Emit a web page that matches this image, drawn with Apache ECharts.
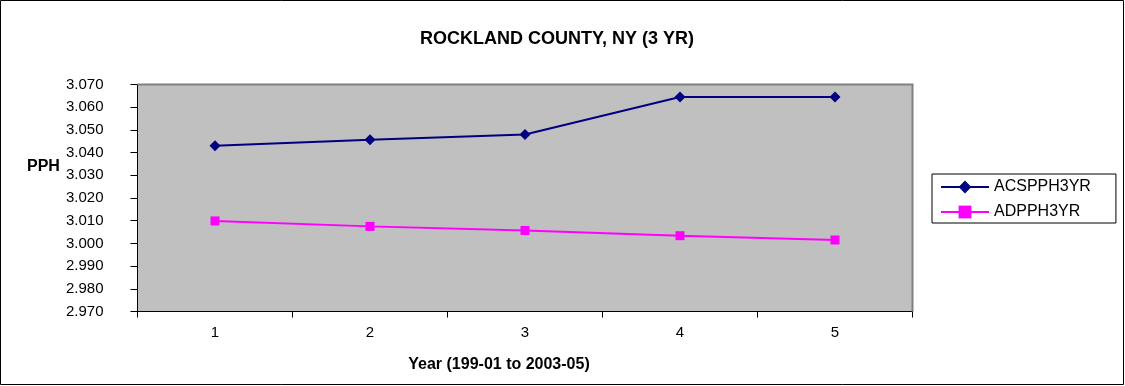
<!DOCTYPE html>
<html>
<head>
<meta charset="utf-8">
<script src="https://cdn.jsdelivr.net/npm/echarts@6/dist/echarts.min.js"></script>
<style>
  html, body { margin: 0; padding: 0; background: #fff; }
  #chart { width: 1125px; height: 386px; }
</style>
</head>
<body>
<div id="chart"></div>
<script>
// Household size (persons per household), three-year estimates
const years = ['1', '2', '3', '4', '5'];
const acsPPH3YR = [3.043, 3.0457, 3.048, 3.0645, 3.0645];
const adPPH3YR = [3.0099, 3.0075, 3.0057, 3.0034, 3.0015];
const yTicks = { min: 2.97, max: 3.07, step: 0.01 };

const FONT = '"Liberation Sans", Arial, sans-serif';
const chart = echarts.init(document.getElementById('chart'));

chart.setOption({
  animation: false,
  backgroundColor: '#ffffff',
  textStyle: { fontFamily: FONT },
  title: [
    {
      text: 'ROCKLAND COUNTY, NY (3 YR)',
      left: 552, top: 25, textAlign: 'center',
      textStyle: { fontFamily: FONT, fontSize: 18, fontWeight: 'bold', color: '#000' }
    },
    {
      text: 'Year (199-01 to 2003-05)',
      left: 494, top: 352, textAlign: 'center',
      textStyle: { fontFamily: FONT, fontSize: 16, fontWeight: 'bold', color: '#000' }
    },
    {
      text: 'PPH',
      left: 22, top: 154,
      textStyle: { fontFamily: FONT, fontSize: 16, fontWeight: 'bold', color: '#000' }
    }
  ],
  graphic: [
    {
      type: 'rect', silent: true, z: -1,
      shape: { x: 0.5, y: 0.5, width: 1123, height: 384 },
      style: { fill: 'none', stroke: '#000', lineWidth: 1 }
    },
    {
      // plot frame: grey on top and right
      type: 'polyline', silent: true, z: 1,
      shape: { points: [[137.5, 84.5], [912.5, 84.5], [912.5, 311.5]] },
      style: { stroke: '#808080', lineWidth: 2, fill: 'none' }
    }
  ],
  legend: {
    orient: 'vertical',
    left: 932, top: 174,
    padding: [5, 25, 3, 8],
    itemWidth: 48, itemHeight: 16, itemGap: 9,
    borderColor: '#000', borderWidth: 1,
    backgroundColor: '#fff',
    textStyle: { fontFamily: FONT, fontSize: 16, color: '#000' },
    data: ['ACSPPH3YR', 'ADPPH3YR']
  },
  grid: {
    left: 137.5, right: 212.5, top: 84.5, bottom: 74.5,
    show: true, backgroundColor: '#c0c0c0', borderWidth: 0
  },
  xAxis: {
    type: 'category',
    data: years,
    boundaryGap: true,
    axisLine: { lineStyle: { color: '#000', width: 1 } },
    axisTick: { show: true, length: 6, lineStyle: { color: '#000' } },
    axisLabel: { fontFamily: FONT, fontSize: 15, color: '#000', margin: 14 },
    splitLine: { show: false }
  },
  yAxis: {
    type: 'value',
    min: yTicks.min, max: yTicks.max, interval: yTicks.step,
    axisLine: { show: true, lineStyle: { color: '#000', width: 1 } },
    axisTick: { show: true, length: 7, lineStyle: { color: '#000' } },
    axisLabel: {
      fontFamily: FONT, fontSize: 15, color: '#000', margin: 34,
      formatter: v => v.toFixed(3)
    },
    splitLine: { show: false }
  },
  series: [
    {
      name: 'ACSPPH3YR',
      type: 'line',
      data: acsPPH3YR,
      symbol: 'diamond', symbolSize: 11,
      lineStyle: { color: '#000080', width: 2 },
      itemStyle: { color: '#000080' },
      z: 3
    },
    {
      name: 'ADPPH3YR',
      type: 'line',
      data: adPPH3YR,
      symbol: 'rect', symbolSize: 9,
      lineStyle: { color: '#ff00ff', width: 2 },
      itemStyle: { color: '#ff00ff' },
      z: 3
    }
  ]
});
</script>
</body>
</html>
